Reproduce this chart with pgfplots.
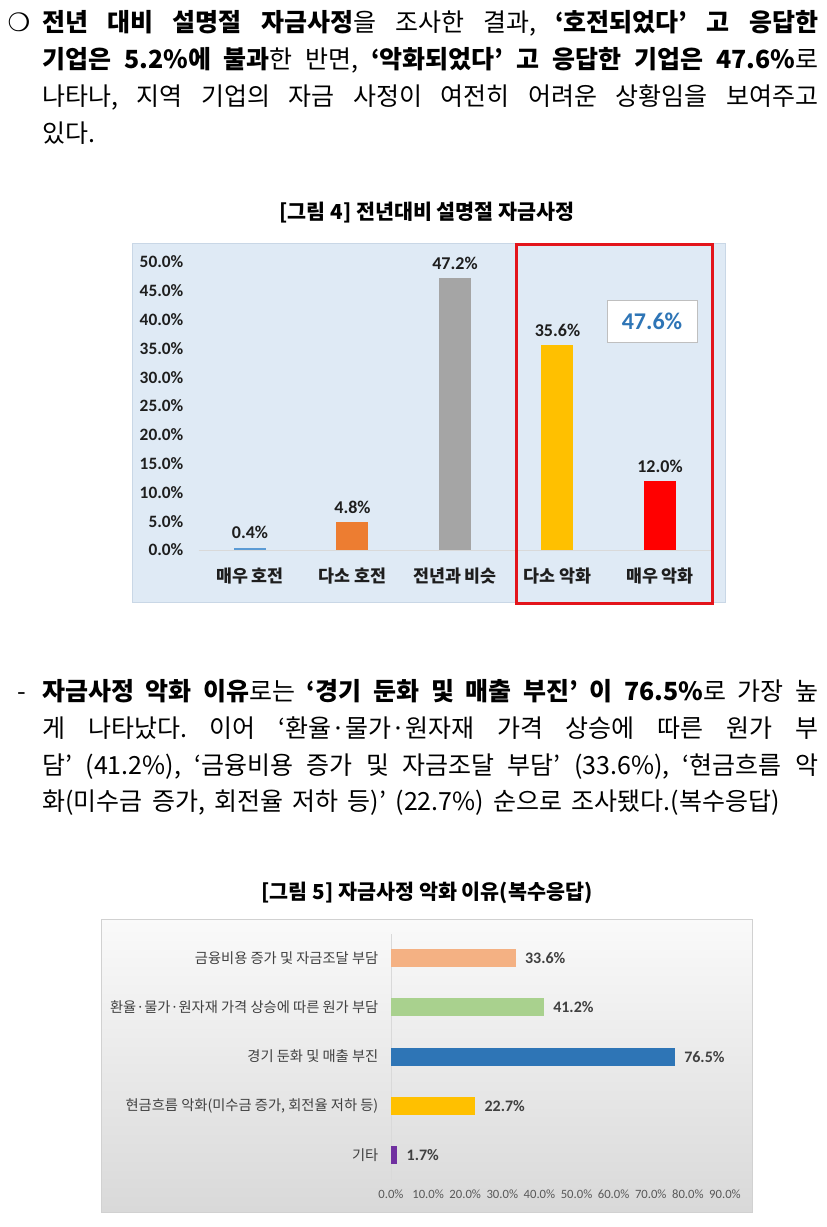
\documentclass[border=0pt]{standalone}
\usepackage{pgfplots}
\pgfplotsset{compat=1.18}
\usepackage{fontspec}
\setmainfont{Noto Sans CJK KR}
\newfontfamily\carl{Carlito}
\newfontfamily\djv{DejaVu Sans}
\definecolor{bgA}{HTML}{DFEAF5}
\definecolor{frA}{HTML}{C9D7E6}
\definecolor{cA}{HTML}{5B9BD5}
\definecolor{cB}{HTML}{ED7D31}
\definecolor{cC}{HTML}{A5A5A5}
\definecolor{cD}{HTML}{FFC000}
\definecolor{cE}{HTML}{FF0000}
\definecolor{redbox}{HTML}{E3141B}
\definecolor{blueT}{HTML}{2E75B6}
\definecolor{dA}{HTML}{F4B183}
\definecolor{dB}{HTML}{A9D18E}
\definecolor{dC}{HTML}{2E75B6}
\definecolor{dD}{HTML}{FFC000}
\definecolor{dE}{HTML}{7030A0}
\definecolor{labA}{HTML}{1E1E1E}
\definecolor{labB}{HTML}{404040}
\definecolor{tickB}{HTML}{595959}
\newcommand\body{\fontsize{18.75}{20}\selectfont}
\frenchspacing
\begin{document}
\begin{tikzpicture}[x=0.75pt,y=-0.75pt]
\fill[white] (0,0) rectangle (826,1227);
\useasboundingbox (0,0) rectangle (826,1227);
% ---------- paragraph 1
\node[anchor=center,inner sep=0] at (19,22) {\djv\bfseries\fontsize{19}{19}\selectfont ❍};
\node[anchor=base west,inner sep=0] at (42,32) {\body\makebox[582pt][s]{{\bfseries 전년 대비 설명절 자금사정}을 조사한 결과, {\bfseries ‘호전되었다’ 고 응답한}}};
\node[anchor=base west,inner sep=0] at (42,69) {\body\makebox[582pt][s]{{\bfseries 기업은 5.2\%에 불과}한 반면, {\bfseries ‘악화되었다’ 고 응답한 기업은 47.6\%}로}};
\node[anchor=base west,inner sep=0] at (42,106) {\body\makebox[582pt][s]{나타나, 지역 기업의 자금 사정이 여전히 어려운 상황임을 보여주고}};
\node[anchor=base west,inner sep=0] at (42,143) {\body 있다.};
% ---------- figure 4
\node[font=\bfseries\fontsize{15.5}{16}\selectfont] at (427,213) {[그림 4] 전년대비 설명절 자금사정};
\fill[bgA] (132,243) rectangle (725,602);
\draw[frA,line width=0.6pt] (132,243) rectangle (725,602);
\begin{axis}[at={(149.06pt,-412.5pt)},anchor=south west,scale only axis,
  width=384.375pt,height=216pt,xmin=-0.5,xmax=4.5,ymin=0,ymax=50,
  axis line style={draw=none},major tick length=0pt,clip=false,
  xtick={0,1,2,3,4},
  xticklabels={매우 호전,다소 호전,전년과 비슷,다소 악화,매우 악화},
  xticklabel style={font=\bfseries\fontsize{13}{13}\selectfont,text=labA,yshift=-10pt},
  ytick={0,5,...,50},
  yticklabels={0.0\%,5.0\%,10.0\%,15.0\%,20.0\%,25.0\%,30.0\%,35.0\%,40.0\%,45.0\%,50.0\%},
  yticklabel style={font=\carl\bfseries\fontsize{13}{13}\selectfont,text=labA,xshift=-8pt},
  /pgf/number format/assume math mode=true,
  nodes near coords={\pgfmathprintnumber[fixed,fixed zerofill,precision=1]{\pgfplotspointmeta}\%},
  every node near coord/.append style={font=\carl\bfseries\fontsize{13.5}{14}\selectfont,text=labA,anchor=south,yshift=3pt},
]
\draw[color=black!15,line width=0.6pt] (axis cs:-0.5,0) -- (axis cs:4.5,0);
\addplot[ybar,bar width=24pt,fill=cA,draw=none] coordinates {(0,0.4)};
\addplot[ybar,bar width=24pt,fill=cB,draw=none] coordinates {(1,4.8)};
\addplot[ybar,bar width=24pt,fill=cC,draw=none] coordinates {(2,47.2)};
\addplot[ybar,bar width=24pt,fill=cD,draw=none] coordinates {(3,35.6)};
\addplot[ybar,bar width=24pt,fill=cE,draw=none] coordinates {(4,12.0)};
\end{axis}
\draw[redbox,line width=2.25pt] (516,244) rectangle (712,603);
\draw[black!25,fill=white,line width=0.6pt] (607,300) rectangle (697,342);
\node[font=\carl\bfseries\fontsize{18}{18}\selectfont,text=blueT] at (652,321) {47.6\%};
% ---------- paragraph 2
\node[anchor=base west,inner sep=0] at (17,700) {\body -};
\node[anchor=base west,inner sep=0] at (42,700) {\body\makebox[582pt][s]{{\bfseries 자금사정 악화 이유}로는 {\bfseries ‘경기 둔화 및 매출 부진’ 이 76.5\%}로 가장 높}};
\node[anchor=base west,inner sep=0] at (42,737) {\body\makebox[582pt][s]{게 나타났다. 이어 ‘환율·물가·원자재 가격 상승에 따른 원가 부}};
\node[anchor=base west,inner sep=0] at (42,774) {\body\makebox[582pt][s]{담’ (41.2\%), ‘금융비용 증가 및 자금조달 부담’ (33.6\%), ‘현금흐름 악}};
\node[anchor=base west,inner sep=0] at (42,810) {\body\makebox[553pt][s]{화(미수금 증가, 회전율 저하 등)’ (22.7\%) 순으로 조사됐다.(복수응답)}};
% ---------- figure 5
\node[font=\bfseries\fontsize{15.5}{16}\selectfont] at (427,893) {[그림 5] 자금사정 악화 이유(복수응답)};
\shade[top color=white!98!black,bottom color=black!15] (101,919) rectangle (752,1212);
\draw[black!18,line width=0.6pt] (101,919) rectangle (752,1212);
\begin{axis}[at={(293.25pt,-884.7pt)},anchor=south west,scale only axis,
  width=250.5pt,height=184.5pt,xmin=0,xmax=90,ymin=-0.5,ymax=4.5,
  axis line style={draw=none},major tick length=0pt,clip=false,
  xtick={0,10,...,90},
  xticklabels={0.0\%,10.0\%,20.0\%,30.0\%,40.0\%,50.0\%,60.0\%,70.0\%,80.0\%,90.0\%},
  xticklabel style={font=\carl\fontsize{9.5}{10}\selectfont,text=tickB,yshift=-4pt},
  ytick={0,1,2,3,4},
  yticklabels={기타,{현금흐름 악화(미수금 증가, 회전율 저하 등)},경기 둔화 및 매출 부진,환율·물가·원자재 가격 상승에 따른 원가 부담,금융비용 증가 및 자금조달 부담},
  yticklabel style={font=\fontsize{10.7}{11}\selectfont,text=labB,xshift=-6pt},
  /pgf/number format/assume math mode=true,
  point meta=x,
  nodes near coords={\pgfmathprintnumber[fixed,fixed zerofill,precision=1]{\pgfplotspointmeta}\%},
  every node near coord/.append style={font=\carl\bfseries\fontsize{12}{12}\selectfont,text=labB,anchor=west,xshift=3.5pt},
]
\draw[color=black!15,line width=0.6pt] (axis cs:0,-0.5) -- (axis cs:0,4.5);
\addplot[xbar,bar width=13.5pt,fill=dE,draw=none,point meta=x] coordinates {(1.7,0)};
\addplot[xbar,bar width=13.5pt,fill=dD,draw=none,point meta=x] coordinates {(22.7,1)};
\addplot[xbar,bar width=13.5pt,fill=dC,draw=none,point meta=x] coordinates {(76.5,2)};
\addplot[xbar,bar width=13.5pt,fill=dB,draw=none,point meta=x] coordinates {(41.2,3)};
\addplot[xbar,bar width=13.5pt,fill=dA,draw=none,point meta=x] coordinates {(33.6,4)};
\end{axis}
\end{tikzpicture}
\end{document}
